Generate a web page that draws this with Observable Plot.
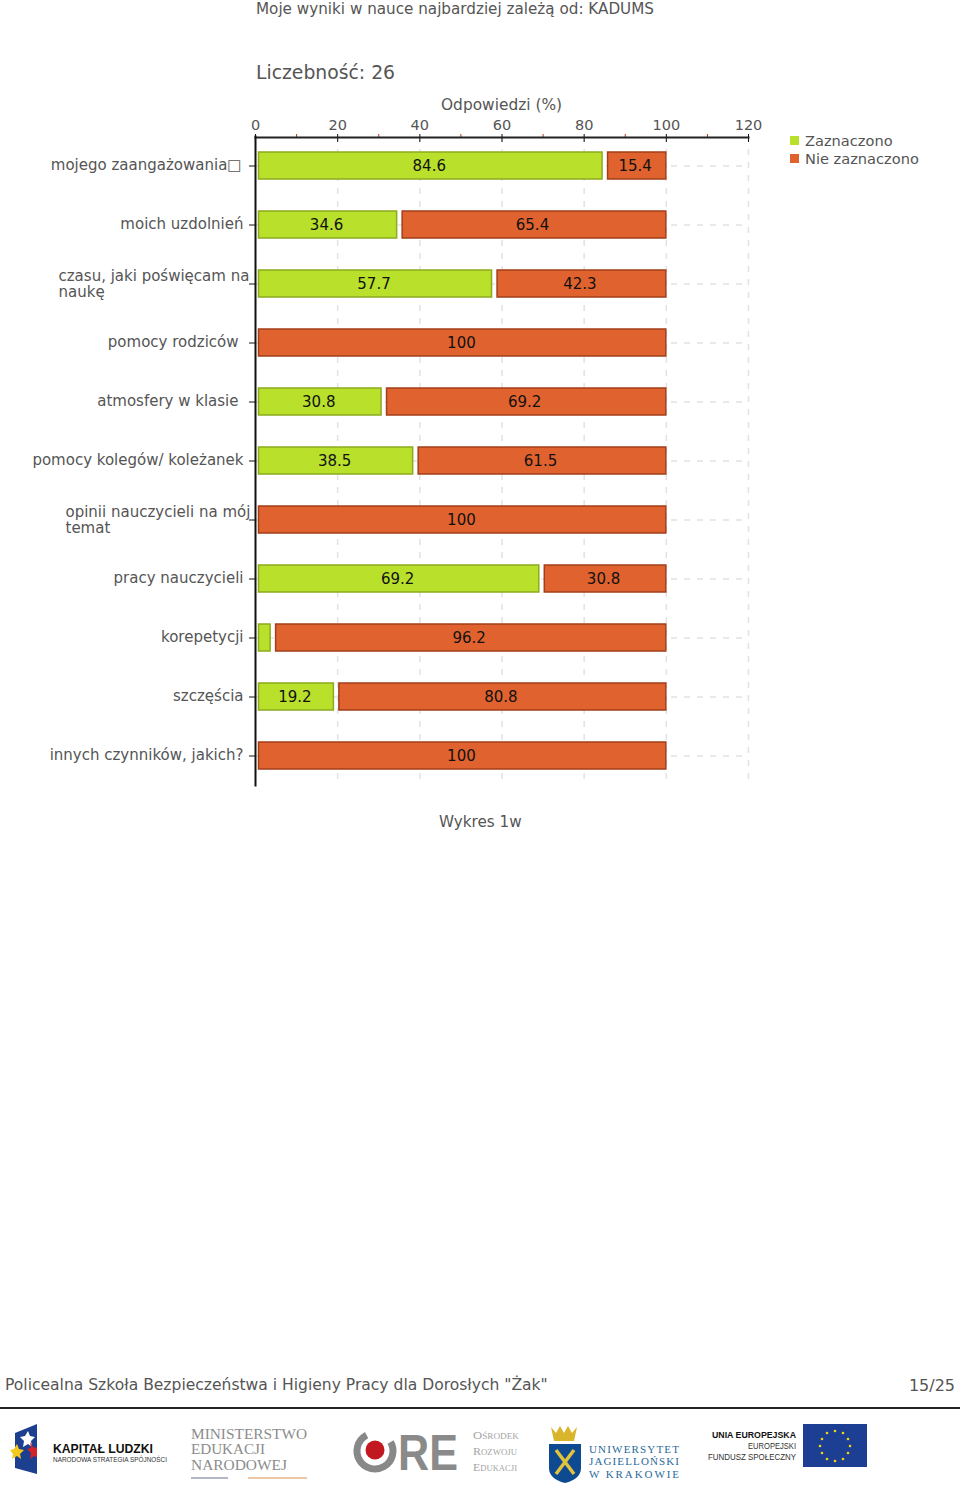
<!DOCTYPE html>
<html lang="pl"><head><meta charset="utf-8">
<script src="https://cdn.jsdelivr.net/npm/d3@7"></script>
<script src="https://cdn.jsdelivr.net/npm/@observablehq/plot@0.6"></script>
<style>
html,body{margin:0;padding:0;background:#fff;}
body{position:relative;width:960px;height:1496px;overflow:hidden;font-family:"DejaVu Sans",sans-serif;color:#555;}
.t{position:absolute;white-space:nowrap;line-height:1;}
#chart{position:absolute;left:0;top:0;}
.sw{position:absolute;width:9px;height:9px;}
#logos{position:absolute;left:0;top:1415px;}
</style></head><body>
<div class="t" style="left:256px;top:2px;font-size:15.2px;">Moje wyniki w nauce najbardziej zależą od: KADUMS</div>
<div class="t" style="left:256px;top:64px;font-size:18.8px;">Liczebność: 26</div>
<div class="t" style="left:441px;top:98px;font-size:15.4px;">Odpowiedzi (%)</div>
<div id="chart"></div>
<div class="sw" style="left:790px;top:136px;background:#b9e02b;"></div>
<div class="sw" style="left:790px;top:154px;background:#e0622e;"></div>
<div class="t" style="left:805px;top:134px;font-size:14.6px;">Zaznaczono</div>
<div class="t" style="left:805px;top:152px;font-size:14.6px;">Nie zaznaczono</div>
<div class="t" style="left:439px;top:815px;font-size:15.2px;">Wykres 1w</div>
<div class="t" style="left:5px;top:1378px;font-size:15.55px;">Policealna Szkoła Bezpieczeństwa i Higieny Pracy dla Dorosłych "Żak"</div>
<div class="t" style="right:5px;top:1378px;font-size:16px;">15/25</div>
<div style="position:absolute;left:0;top:1407px;width:960px;height:2px;background:#222;"></div>
<svg id="logos" width="960" height="81" viewBox="0 1415 960 81" font-family="'Liberation Sans',sans-serif">
  <path d="M15 1433 L37 1424 L37 1474 L15 1468Z" fill="#1d3f8f"/>
  <path d="M28 1431l2 5 5 1-4 4 1 6-4-3-5 3 1-6-4-4 5-1z" fill="#fff"/>
  <path d="M17 1444l2 5 5 1-4 4 1 5-4-3-5 3 1-5-3-4 4-1z" fill="#f4c91e"/>
  <path d="M30 1442l3 5 4 1v9l-3-1-4 3 1-6-4-4 4-1z" fill="#d3232a"/>
  <text x="53" y="1453" font-size="13" font-weight="700" fill="#111" textLength="100" lengthAdjust="spacingAndGlyphs">KAPITAŁ LUDZKI</text>
  <text x="53" y="1462" font-size="6.5" fill="#333" textLength="114" lengthAdjust="spacingAndGlyphs">NARODOWA STRATEGIA SPÓJNOŚCI</text>
  <g font-family="'Liberation Serif',serif" font-size="14.5" fill="#8c8c8c">
    <text x="191" y="1439" textLength="116" lengthAdjust="spacingAndGlyphs">MINISTERSTWO</text>
    <text x="191" y="1454" textLength="74" lengthAdjust="spacingAndGlyphs">EDUKACJI</text>
    <text x="191" y="1470" textLength="96" lengthAdjust="spacingAndGlyphs">NARODOWEJ</text>
  </g>
  <path d="M191 1478H228" stroke="#9aa0b5" stroke-width="1.5"/><path d="M248 1478H307" stroke="#e8b58a" stroke-width="1.5"/>
  <circle cx="375" cy="1451" r="18" fill="none" stroke="#888" stroke-width="7" stroke-dasharray="85 28" transform="rotate(-30 375 1451)"/>
  <circle cx="375" cy="1450" r="9.5" fill="#c2181f"/>
  <text x="398" y="1470" font-size="50" font-weight="700" fill="#8a8a8a" textLength="60" lengthAdjust="spacingAndGlyphs">RE</text>
  <g font-family="'Liberation Serif',serif" font-size="11" fill="#a5a5a5" style="font-variant:small-caps">
    <text x="473" y="1439" textLength="46" lengthAdjust="spacingAndGlyphs">Ośrodek</text><text x="473" y="1455" textLength="44" lengthAdjust="spacingAndGlyphs">Rozwoju</text><text x="473" y="1471" textLength="44" lengthAdjust="spacingAndGlyphs">Edukacji</text>
  </g>
  <path d="M551 1427l5 6 4-7 4 7 4-7 4 7 5-6-3 14h-20z" fill="#d9b52c"/>
  <path d="M549 1444h32v24q0 11-16 15q-16-4-16-15z" fill="#0d4a91"/>
  <path d="M556 1450L574 1474M574 1450L556 1474" stroke="#e0c23c" stroke-width="3.5"/>
  <g font-family="'Liberation Serif',serif" font-size="11" fill="#2a6a9a">
    <text x="589" y="1453" textLength="90" lengthAdjust="spacing">UNIWERSYTET</text><text x="589" y="1465" textLength="90" lengthAdjust="spacing">JAGIELLOŃSKI</text><text x="589" y="1478" textLength="90" lengthAdjust="spacing">W KRAKOWIE</text>
  </g>
  <text x="796" y="1438" font-size="9" font-weight="700" text-anchor="end" fill="#111" textLength="84" lengthAdjust="spacingAndGlyphs">UNIA EUROPEJSKA</text>
  <text x="796" y="1449" font-size="9" text-anchor="end" fill="#333" textLength="48" lengthAdjust="spacingAndGlyphs">EUROPEJSKI</text>
  <text x="796" y="1460" font-size="9" text-anchor="end" fill="#333" textLength="88" lengthAdjust="spacingAndGlyphs">FUNDUSZ SPOŁECZNY</text>
  <rect x="803" y="1424" width="64" height="43" fill="#1c3f94"/>
  <g fill="#f4d313"><circle cx="835" cy="1431" r="1.3"/><circle cx="843" cy="1433" r="1.3"/><circle cx="848" cy="1439" r="1.3"/><circle cx="850" cy="1446" r="1.3"/><circle cx="848" cy="1453" r="1.3"/><circle cx="843" cy="1459" r="1.3"/><circle cx="835" cy="1461" r="1.3"/><circle cx="827" cy="1459" r="1.3"/><circle cx="822" cy="1453" r="1.3"/><circle cx="820" cy="1446" r="1.3"/><circle cx="822" cy="1439" r="1.3"/><circle cx="827" cy="1433" r="1.3"/></g>
</svg>
<script>
const categories = [
  "mojego zaangażowania□","moich uzdolnień","czasu, jaki poświęcam na\nnaukę","pomocy rodziców",
  "atmosfery w klasie","pomocy kolegów/ koleżanek","opinii nauczycieli na mój\ntemat","pracy nauczycieli",
  "korepetycji","szczęścia","innych czynników, jakich?"
];
const zaznaczono    = [84.6,34.6,57.7,0,30.8,38.5,0,69.2,3.8,19.2,0];
const nieZaznaczono = [15.4,65.4,42.3,100,69.2,61.5,100,30.8,96.2,80.8,100];
const xTicks = [0,20,40,60,80,100,120];
const xMinorTicks = [10,30,50,70,90,110];
const xGrid = [20,40,60,80,100,120];
const colors = {zaz:"#b9e02b", zazStroke:"#8cab1e", nie:"#e0622e", nieStroke:"#a23f1a", text:"#555"};

const rows = categories.map((c,i)=>({c, a:zaznaczono[i], b:nieZaznaczono[i]}));
const green = rows.filter(r=>r.a>0);
const orangeFull = rows.filter(r=>r.a===0);
const orangePart = rows.filter(r=>r.a>0);
const labelSize = 15;
const labelMark = (names, opts) => Plot.text(names, {y:d=>d, frameAnchor:"left", fontSize:labelSize, fill:colors.text, lineHeight:1.05, ...opts});

const plot = Plot.plot({
  width:960, height:800,
  marginLeft:255, marginRight:212, marginTop:136, marginBottom:15,
  style:{background:"transparent", fontFamily:"'DejaVu Sans',sans-serif", overflow:"visible"},
  x:{domain:[0,120], axis:null},
  y:{domain:categories, type:"band", padding:0, axis:null},
  marks:[
    Plot.ruleX(xGrid,{stroke:"#e2e2e2", strokeDasharray:"6,7", strokeWidth:1.5}),
    Plot.ruleY(categories,{y:d=>d, x1:0, x2:120, stroke:"#e2e2e2", strokeDasharray:"6,7", strokeWidth:1.5}),
    Plot.rectX(green,{y:"c", x1:0, x2:"a", fill:colors.zaz, stroke:colors.zazStroke, strokeWidth:1.5, insetTop:16, insetBottom:16, insetLeft:3.5, insetRight:0.5}),
    Plot.rectX(orangePart,{y:"c", x1:"a", x2:100, fill:colors.nie, stroke:colors.nieStroke, strokeWidth:1.5, insetTop:16, insetBottom:16, insetLeft:5}),
    Plot.rectX(orangeFull,{y:"c", x1:0, x2:100, fill:colors.nie, stroke:colors.nieStroke, strokeWidth:1.5, insetTop:16, insetBottom:16, insetLeft:3.5}),
    Plot.text(green.filter(r=>r.a>=10),{y:"c", x:r=>r.a/2, text:r=>String(r.a), fontSize:15, fill:"#111", dx:0, dy:0}),
    Plot.text(rows,{y:"c", x:r=>r.a+r.b/2, text:r=>String(r.b), fontSize:15, fill:"#111", dx:0.5, dy:0}),
    Plot.axisX({anchor:"top", ticks:xTicks, tickSize:0, tickPadding:7, fill:colors.text, fontSize:14.5, label:null, stroke:"none"}),
    Plot.axisX({anchor:"top", ticks:xTicks, tickSize:8, dy:5, fill:"none", stroke:"#111", label:null}),
    Plot.axisX({anchor:"top", ticks:xMinorTicks, tickSize:3, fill:"none", stroke:"#c03020", label:null}),
    Plot.frame({anchor:"top", stroke:"#222", strokeWidth:2, dy:1}),
    Plot.frame({anchor:"left", stroke:"#111", strokeWidth:2}),
    Plot.axisY({anchor:"left", tickSize:6, fill:"none", stroke:"#111", label:null}),
    labelMark(["moich uzdolnień","pracy nauczycieli","korepetycji","szczęścia","innych czynników, jakich?","pomocy kolegów/ koleżanek"],{text:d=>d, textAnchor:"end", dx:-12, dy:-1}),
    labelMark(["mojego zaangażowania□"],{text:d=>d, textAnchor:"end", dx:-14, dy:-1}),
    labelMark(["pomocy rodziców","atmosfery w klasie"],{text:d=>d, textAnchor:"end", dx:-17, dy:-1}),
    labelMark(["czasu, jaki poświęcam na\nnaukę"],{text:d=>d, textAnchor:"start", dx:-197}),
    labelMark(["opinii nauczycieli na mój\ntemat"],{text:d=>d, textAnchor:"start", dx:-190})
  ]
});
document.getElementById("chart").appendChild(plot);
</script>
</body></html>
